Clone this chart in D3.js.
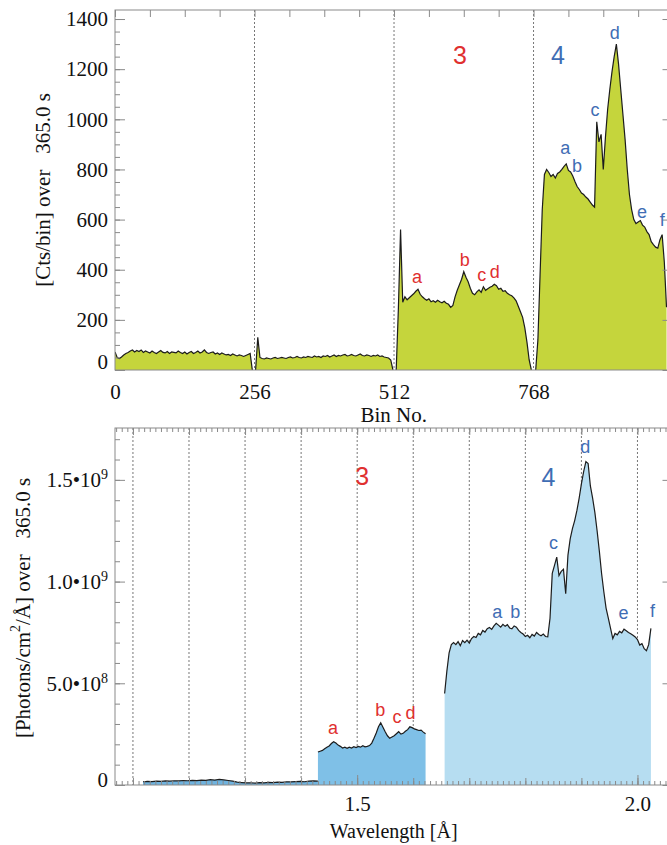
<!DOCTYPE html>
<html><head><meta charset="utf-8">
<script src="https://cdn.jsdelivr.net/npm/d3@7/dist/d3.min.js"></script>
<style>body{margin:0;background:#fff}svg{display:block}</style>
</head><body>
<svg id="c" width="667" height="845"></svg>
<script>
// ---------- DATA ----------
const BIN_STEP = 4;
const ch1Start = 0;
const ch1Counts = [72,50,46,52,60,66,70,76,80,72,78,74,80,70,76,72,68,76,70,66,72,78,70,68,74,66,72,70,68,76,70,66,72,64,70,74,66,70,76,68,72,80,70,66,70,72,64,68,62,68,64,60,62,58,64,60,56,60,58,54,58,62,66,0];
const ch2Start = 258;
const ch2Counts = [0,130,50,46,44,48,46,44,48,50,46,48,50,48,46,50,52,48,50,54,50,48,52,50,54,52,50,56,52,54,50,56,54,58,52,56,60,54,58,56,60,62,56,58,62,58,56,60,64,58,56,60,58,54,58,56,60,54,56,52,50,48,40,0];
const ch3Start = 516;
const ch3Counts = [0,245,560,270,292,280,288,296,304,314,322,302,292,284,278,284,272,276,270,278,272,268,274,266,262,250,258,292,318,340,362,392,370,352,326,306,300,312,320,310,332,318,324,330,334,342,336,322,326,314,316,306,300,296,288,276,254,232,210,168,110,40,0];
const ch4Start = 772;
const ch4Counts = [0,120,380,640,780,800,788,772,780,766,784,790,800,812,822,796,790,774,752,732,720,706,700,690,682,670,658,650,990,910,940,800,930,1040,1120,1190,1250,1300,1220,1120,1020,920,800,700,640,600,584,590,596,578,570,552,540,512,500,490,486,520,540,430,250];
const channelEdges = [256, 512, 768];
const binTickLabels = [0, 256, 512, 768];
const ctsTicks = [0, 200, 400, 600, 800, 1000, 1200, 1400];

const lowStart = 1.118, LOW_STEP = 0.008;
const lowFlux = [1.6e7,1.8e7,1.7e7,1.9e7,1.8e7,2.0e7,1.9e7,2.1e7,2.0e7,2.2e7,2.1e7,2.3e7,2.2e7,2.4e7,2.3e7,2.6e7,2.4e7,2.8e7,2.5e7,2.2e7,1.9e7,1.4e7,1.2e7,1.0e7,1.1e7,0.9e7,1.2e7,1.0e7,1.3e7,1.2e7,1.4e7,1.3e7,1.6e7,1.5e7,1.7e7,1.8e7,1.6e7,1.9e7,2.0e7,1.9e7];
const WL_STEP = 0.004;
const wl3Start = 1.430;
const wl3Flux = [1.62e8,1.66e8,1.70e8,1.78e8,1.86e8,1.92e8,2.04e8,2.13e8,2.06e8,1.96e8,1.90e8,1.82e8,1.86e8,1.80e8,1.86e8,1.82e8,1.88e8,1.84e8,1.90e8,1.86e8,1.93e8,1.88e8,1.90e8,1.94e8,2.06e8,2.30e8,2.56e8,2.86e8,3.06e8,2.84e8,2.62e8,2.42e8,2.30e8,2.36e8,2.42e8,2.52e8,2.62e8,2.50e8,2.54e8,2.64e8,2.72e8,2.86e8,2.82e8,2.76e8,2.72e8,2.68e8,2.70e8,2.60e8,2.52e8];
const wl4Start = 1.656;
const wl4Flux = [4.5e8,5.6e8,6.5e8,6.9e8,7.0e8,6.9e8,7.05e8,6.85e8,7.1e8,7.0e8,7.12e8,6.98e8,7.2e8,7.3e8,7.25e8,7.45e8,7.38e8,7.6e8,7.52e8,7.68e8,7.74e8,7.65e8,7.82e8,7.95e8,7.86e8,7.76e8,7.9e8,7.8e8,7.88e8,7.72e8,7.68e8,7.82e8,7.76e8,7.6e8,7.5e8,7.42e8,7.3e8,7.36e8,7.24e8,7.4e8,7.32e8,7.5e8,7.4e8,7.34e8,7.42e8,7.3e8,7.28e8,8.2e8,1.04e9,1.08e9,1.12e9,1.03e9,1.05e9,1.06e9,9.4e8,1.13e9,1.21e9,1.26e9,1.3e9,1.35e9,1.41e9,1.48e9,1.54e9,1.59e9,1.58e9,1.47e9,1.41e9,1.34e9,1.25e9,1.15e9,1.04e9,9.5e8,8.7e8,8.2e8,7.7e8,7.2e8,7.45e8,7.38e8,7.55e8,7.48e8,7.66e8,7.58e8,7.5e8,7.44e8,7.36e8,7.28e8,7.15e8,6.88e8,6.95e8,6.7e8,6.6e8,6.9e8,7.7e8];
const wlGrid = [1.1,1.2,1.3,1.4,1.5,1.6,1.7,1.8,1.9,2.0];
const wlTickLabels = [1.5, 2.0];
const fluxTicks = [0, 5e8, 1e9, 1.5e9];

// annotations: [text, x-value, y-value]
const topOrder = [["3",633,1257,"red"],["4",813,1257,"blue"]];
const topRed = [["a",554,371],["b",642,439],["c",673,379],["d",697,391]];
const topBlue = [["a",826,886],["b",848,814],["c",881,1037],["d",917,1344],["e",967,630],["f",1004,598]];
const botOrder = [["3",1.509,1.519e9,"red"],["4",1.841,1.514e9,"blue"]];
const botRed = [["a",1.457,2.80e8],["b",1.541,3.69e8],["c",1.571,3.34e8],["d",1.595,3.54e8]];
const botBlue = [["a",1.750,8.5e8],["b",1.782,8.5e8],["c",1.850,1.19e9],["d",1.907,1.66e9],["e",1.975,8.46e8],["f",2.027,8.55e8]];

// ---------- LAYOUT ----------
const SERIF = "'Liberation Serif','Times New Roman',serif";
const SANS = "'Liberation Sans',Arial,sans-serif";
const RED = "#e0302f", BLUE = "#3f6db4", AXC = "#8a8a8a";
const L = 115, R = 672.5;
const tTop = 10, tBot = 370, bTop = 428, bBot = 785;

const svg = d3.select("#c");
const xBin = d3.scaleLinear().domain([0, 1023]).range([L, R]);
const yCts = d3.scaleLinear().domain([0, 1436]).range([tBot, tTop]);
const xWl = d3.scaleLinear().domain([1.068, 2.0625]).range([L, R]);
const yPh = d3.scaleLinear().domain([0, 1.755e9]).range([bBot, bTop]);

const pts = (s, st, v) => v.map((d, i) => [s + i * st, d]);

const defs = svg.append("defs");
defs.append("clipPath").attr("id","ct").append("rect").attr("x",L).attr("y",tTop).attr("width",R-L).attr("height",tBot-tTop);
defs.append("clipPath").attr("id","cb").append("rect").attr("x",L).attr("y",bTop).attr("width",R-L).attr("height",bBot-bTop);

function styleAxis(g){
  g.attr("font-family", SERIF).attr("font-size", 21).attr("color", AXC);
  g.selectAll("text").attr("fill", "#111");
  g.select(".domain").remove();
  g.selectAll("line").attr("stroke-width", 1);
}

// ---------- TOP PANEL ----------
const gt = svg.append("g").attr("clip-path","url(#ct)");
gt.selectAll("line.grid").data(channelEdges).join("line")
  .attr("x1", d=>xBin(d)).attr("x2", d=>xBin(d)).attr("y1", tTop).attr("y2", tBot)
  .attr("stroke","#777").attr("stroke-dasharray","2,2").attr("stroke-width",1);
const areaT = d3.area().x(d=>xBin(d[0])).y0(yCts(0)).y1(d=>yCts(d[1]));
const lineT = d3.line().x(d=>xBin(d[0])).y(d=>yCts(d[1]));
[[ch1Start,ch1Counts],[ch2Start,ch2Counts],[ch3Start,ch3Counts],[ch4Start,ch4Counts]].forEach(([s,v])=>{
  const p = pts(s, BIN_STEP, v);
  gt.append("path").attr("d", areaT(p)).attr("fill","#c5d53c");
  gt.append("path").attr("d", lineT(p)).attr("fill","none").attr("stroke","#1c1c1c").attr("stroke-width",1.2);
});

svg.append("g").attr("transform",`translate(${L},0)`)
  .call(d3.axisLeft(yCts).tickValues(d3.range(0,1436,50)).tickSizeInner(-5).tickSizeOuter(0).tickFormat(""))
  .call(styleAxis);
svg.append("g").attr("transform",`translate(${L},0)`)
  .call(d3.axisLeft(yCts).tickValues(ctsTicks).tickSizeInner(-10).tickSizeOuter(0).tickPadding(7).tickFormat(d3.format("d")))
  .call(styleAxis)
  .selectAll("text").filter(d=>d===0).attr("y",-8);
svg.append("g").attr("transform",`translate(${R},0)`)
  .call(d3.axisRight(yCts).tickValues(d3.range(0,1436,50)).tickSizeInner(-5).tickSizeOuter(0).tickFormat(""))
  .call(styleAxis);
svg.append("g").attr("transform",`translate(${R},0)`)
  .call(d3.axisRight(yCts).tickValues(ctsTicks).tickSizeInner(-10).tickSizeOuter(0).tickFormat(""))
  .call(styleAxis);
svg.append("g").attr("transform",`translate(0,${tTop})`)
  .call(d3.axisTop(xBin).tickValues(d3.range(0,1024,64)).tickSizeInner(-7).tickSizeOuter(0).tickFormat(""))
  .call(styleAxis);
svg.append("g").attr("transform",`translate(0,${tBot})`)
  .call(d3.axisBottom(xBin).tickValues(binTickLabels).tickSize(0).tickPadding(14).tickFormat(d3.format("d")))
  .call(styleAxis);
svg.append("rect").attr("x",L).attr("y",tTop).attr("width",R-L).attr("height",tBot-tTop)
  .attr("fill","none").attr("stroke",AXC).attr("stroke-width",1);

svg.append("text").attr("x",(L+R)/2).attr("y",422).attr("text-anchor","middle")
  .attr("font-family",SERIF).attr("font-size",21).attr("fill","#111").text("Bin No.");
svg.append("text").attr("transform","translate(43,190) rotate(-90)").attr("text-anchor","middle")
  .attr("dominant-baseline","central").attr("font-family",SERIF).attr("font-size",21).attr("fill","#111")
  .style("white-space","pre").text("[Cts/bin] over   365.0 s");

// ---------- BOTTOM PANEL ----------
const gb = svg.append("g").attr("clip-path","url(#cb)");
gb.selectAll("line.grid").data(wlGrid).join("line")
  .attr("x1", d=>xWl(d)).attr("x2", d=>xWl(d)).attr("y1", bTop).attr("y2", bBot)
  .attr("stroke","#777").attr("stroke-dasharray","2,2").attr("stroke-width",1);
const areaB = d3.area().x(d=>xWl(d[0])).y0(yPh(0)).y1(d=>yPh(d[1]));
const lineB = d3.line().x(d=>xWl(d[0])).y(d=>yPh(d[1]));
[[lowStart,LOW_STEP,lowFlux,"#6fb3df"],[wl3Start,WL_STEP,wl3Flux,"#7fc0e7"],[wl4Start,WL_STEP,wl4Flux,"#b6ddf1"]].forEach(([s,st,v,col])=>{
  const p = pts(s, st, v);
  gb.append("path").attr("d", areaB(p)).attr("fill",col);
  gb.append("path").attr("d", lineB(p)).attr("fill","none").attr("stroke","#1c1c1c").attr("stroke-width",1.2);
});

const fluxMinor = d3.range(0,18).map(i=>i*1e8);
const wlMinor = d3.range(107,207).map(i=>i/100);
const wlMid = wlGrid;
function fmtFlux(sel){
  sel.each(function(d){
    const t = d3.select(this);
    t.text(null);
    if (d === 0){ t.text("0").attr("y",-5); return; }
    const e = Math.floor(Math.log10(d) + 1e-9);
    const m = d / Math.pow(10, e);
    t.append("tspan").text(m.toFixed(1) + "\u2022" + "10");
    t.append("tspan").attr("font-size",14).attr("dy",-8).text(e);
  });
}
svg.append("g").attr("transform",`translate(${L},0)`)
  .call(d3.axisLeft(yPh).tickValues(fluxMinor).tickSizeInner(-5).tickSizeOuter(0).tickFormat(""))
  .call(styleAxis);
svg.append("g").attr("transform",`translate(${L},0)`)
  .call(d3.axisLeft(yPh).tickValues(fluxTicks).tickSizeInner(-10).tickSizeOuter(0).tickPadding(7).tickFormat(d=>d))
  .call(styleAxis)
  .selectAll("text").call(fmtFlux);
svg.append("g").attr("transform",`translate(${R},0)`)
  .call(d3.axisRight(yPh).tickValues(fluxMinor).tickSizeInner(-5).tickSizeOuter(0).tickFormat(""))
  .call(styleAxis);
svg.append("g").attr("transform",`translate(${R},0)`)
  .call(d3.axisRight(yPh).tickValues(fluxTicks).tickSizeInner(-10).tickSizeOuter(0).tickFormat(""))
  .call(styleAxis);
[[bTop, d3.axisTop],[bBot, d3.axisBottom]].forEach(([yy, ax])=>{
  svg.append("g").attr("transform",`translate(0,${yy})`)
    .call(ax(xWl).tickValues(wlMinor).tickSizeInner(-4).tickSizeOuter(0).tickFormat("")).call(styleAxis);
  svg.append("g").attr("transform",`translate(0,${yy})`)
    .call(ax(xWl).tickValues(wlMid).tickSizeInner(-7).tickSizeOuter(0).tickFormat("")).call(styleAxis);
});
svg.append("g").attr("transform",`translate(0,${bBot})`)
  .call(d3.axisBottom(xWl).tickValues(wlTickLabels).tickSizeInner(-10).tickSizeOuter(0).tickPadding(11).tickFormat(d3.format(".1f")))
  .call(styleAxis);
svg.append("rect").attr("x",L).attr("y",bTop).attr("width",R-L).attr("height",bBot-bTop)
  .attr("fill","none").attr("stroke",AXC).attr("stroke-width",1);

svg.append("text").attr("x",(L+R)/2).attr("y",838).attr("text-anchor","middle")
  .attr("font-family",SERIF).attr("font-size",20).attr("fill","#111").text("Wavelength [\u00c5]");
const yt = svg.append("text").attr("transform","translate(23,608) rotate(-90)").attr("text-anchor","middle")
  .attr("dominant-baseline","central").attr("font-family",SERIF).attr("font-size",21).attr("fill","#111")
  .style("white-space","pre");
yt.append("tspan").text("[Photons/cm");
yt.append("tspan").attr("font-size",14).attr("dy",-8).text("2");
yt.append("tspan").attr("dy",8).text("/\u00c5] over   365.0 s");

// ---------- ANNOTATIONS ----------
function annotate(list, xs, ys, color, size){
  svg.append("g").selectAll("text").data(list).join("text")
    .attr("x", d=>xs(d[1])).attr("y", d=>ys(d[2]))
    .attr("text-anchor","middle").attr("dominant-baseline","central")
    .attr("font-family",SANS).attr("font-size",size)
    .attr("fill", d=> d[3] ? (d[3]==="red"?RED:BLUE) : color)
    .text(d=>d[0]);
}
annotate(topOrder, xBin, yCts, null, 25);
annotate(topRed, xBin, yCts, RED, 18);
annotate(topBlue, xBin, yCts, BLUE, 18);
annotate(botOrder, xWl, yPh, null, 25);
annotate(botRed, xWl, yPh, RED, 18);
annotate(botBlue, xWl, yPh, BLUE, 18);
</script>
</body></html>
